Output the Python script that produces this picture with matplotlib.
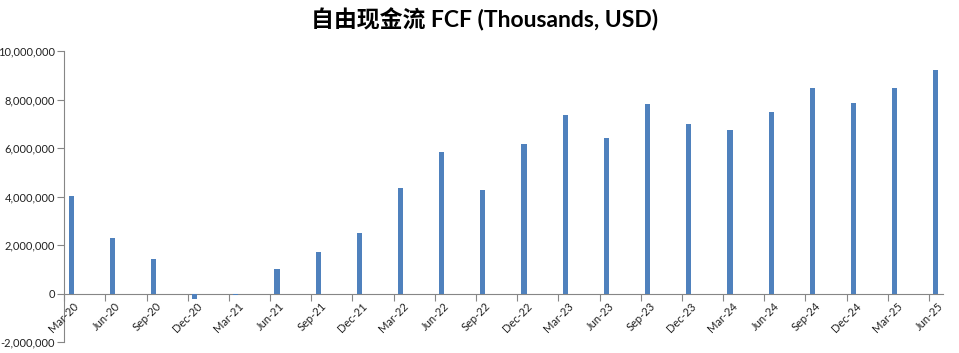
import numpy as np
import matplotlib.pyplot as plt
from matplotlib.ticker import FuncFormatter
from matplotlib.transforms import ScaledTranslation

# quarter labels and free cash flow values (thousands USD)
quarters = ["Mar-20", "Jun-20", "Sep-20", "Dec-20", "Mar-21", "Jun-21", "Sep-21", "Dec-21",
            "Mar-22", "Jun-22", "Sep-22", "Dec-22", "Mar-23", "Jun-23", "Sep-23", "Dec-23",
            "Mar-24", "Jun-24", "Sep-24", "Dec-24", "Mar-25", "Jun-25"]
fcf = [4010000, 2310000, 1410000, -220000, -70000, 1000000, 1710000, 2490000,
       4370000, 5840000, 4260000, 6170000, 7360000, 6420000, 7820000, 7010000,
       6750000, 7490000, 8470000, 7860000, 8470000, 9210000]

plt.rcParams['font.family'] = ['Lato', 'Noto Sans CJK SC', 'DejaVu Sans']

# date axis in months, one slot per month, bars in the middle of their month
months = np.arange(len(quarters)) * 3
bar_x = months + 0.5

fig = plt.figure(figsize=(9.59, 3.53), dpi=100)
ax = fig.add_axes([0.067, 0.031, 0.916, 0.8245])

ax.bar(bar_x, fcf, width=0.38, color='#4F81BD', zorder=3)

ax.set_xlim(0, months[-1] + 1)
ax.set_ylim(-2000000, 10000000)
ax.set_yticks(np.arange(-2000000, 10000001, 2000000))
ax.yaxis.set_major_formatter(FuncFormatter(lambda v, p: f"{v:,.0f}"))

for s in ['top', 'right']:
    ax.spines[s].set_visible(False)
ax.spines['left'].set_color('#868686')
ax.spines['bottom'].set_color('#868686')
ax.spines['bottom'].set_position(('data', 0))
ax.spines['bottom'].set_zorder(2.5)

ax.set_xticks(months)
ax.set_xticklabels([])
ax.tick_params(axis='y', length=5, color='#868686', labelsize=8, pad=1.5, labelcolor='#222222')
ax.tick_params(axis='x', length=5, color='#868686', direction='out')

# rotated quarter labels hanging below the zero line
offset = ScaledTranslation(9 / 100, -7 / 100, fig.dpi_scale_trans)
for m, q in zip(months, quarters):
    ax.text(m, 0, q, transform=ax.transData + offset, rotation=45, ha='right', va='top',
            rotation_mode='anchor', fontsize=8, color='#222222', clip_on=False)

fig.text(0.505, 0.945, "自由现金流 FCF (Thousands, USD)", ha='center', va='center',
         fontsize=16.5, fontweight='bold')

fig.savefig("out.png", dpi=100)
